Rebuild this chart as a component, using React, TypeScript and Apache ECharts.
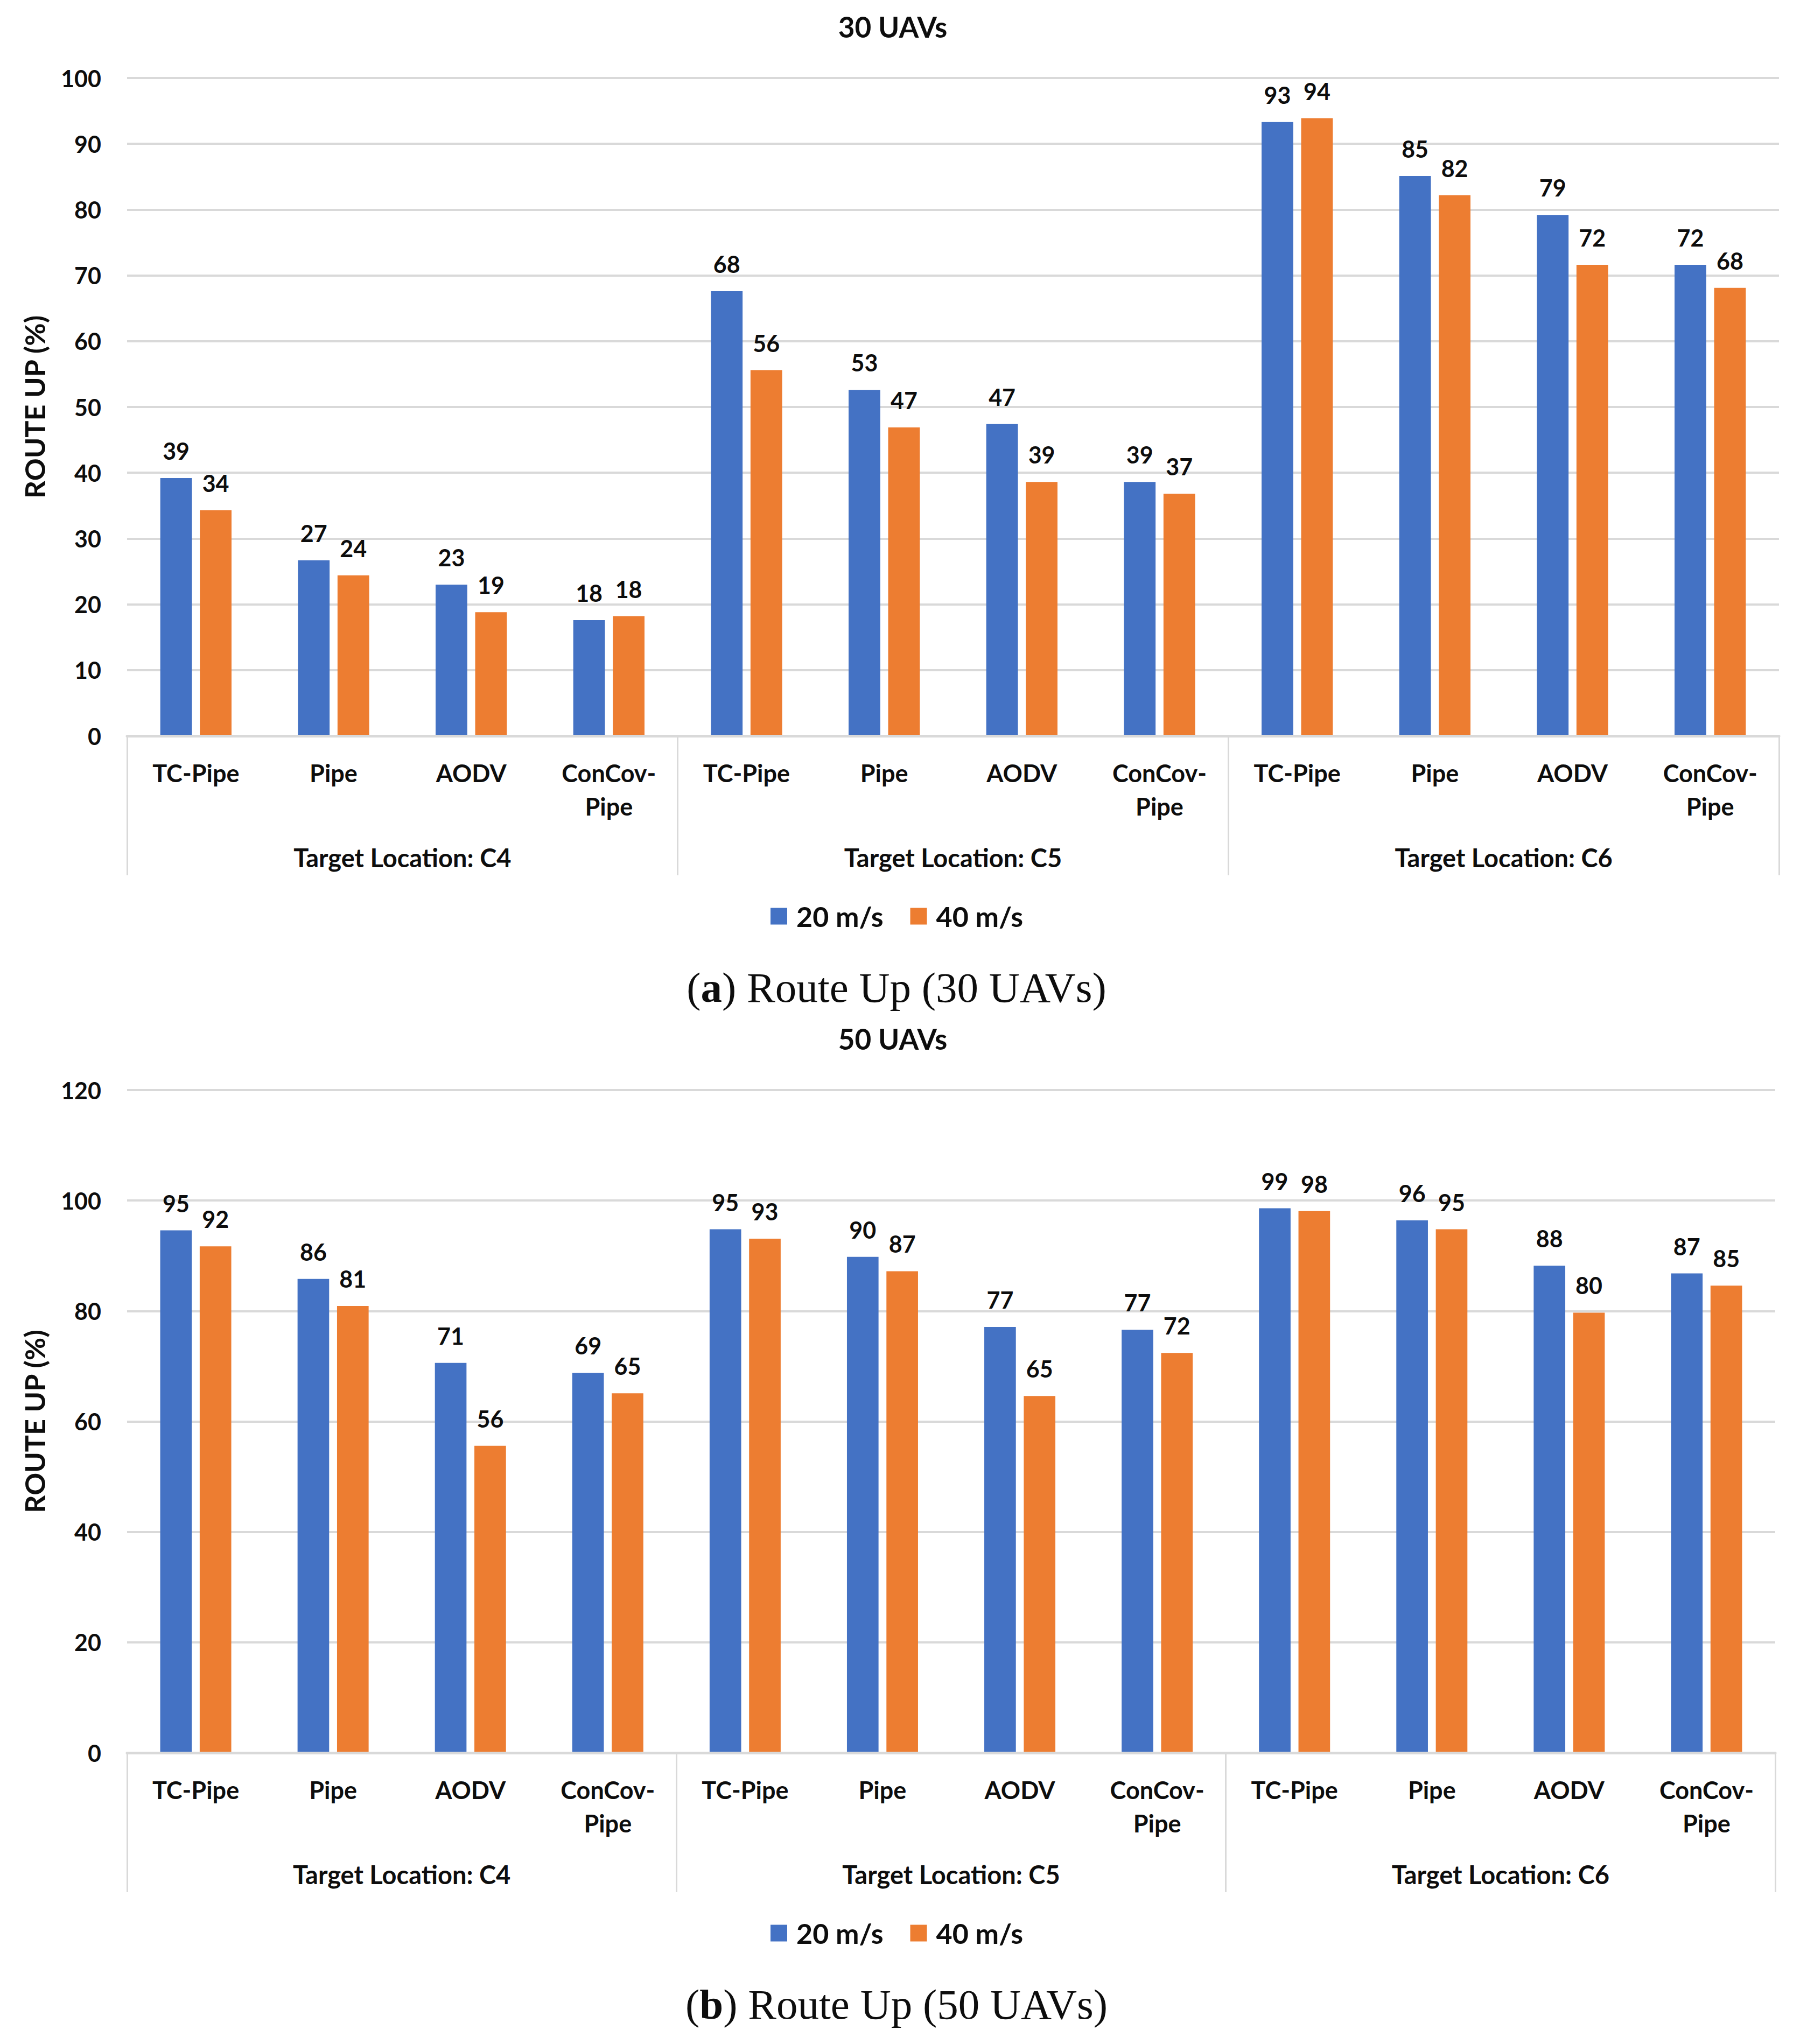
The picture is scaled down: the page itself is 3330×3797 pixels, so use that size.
import React, { useEffect, useRef } from "react";
import * as echarts from "echarts";

const methods = ["TC-Pipe", "Pipe", "AODV", "ConCov-\nPipe"];
const groups = ["Target Location: C4", "Target Location: C5", "Target Location: C6"];
const seriesNames = ["20 m/s", "40 m/s"];

const uav30Speed20 = [39.2, 26.7, 23.0, 17.6, 67.6, 52.6, 47.4, 38.6, 93.3, 85.1, 79.2, 71.6];
const uav30Speed40 = [34.3, 24.4, 18.8, 18.2, 55.6, 46.9, 38.6, 36.8, 93.9, 82.2, 71.6, 68.1];
const uav50Speed20 = [94.6, 85.8, 70.6, 68.8, 94.8, 89.8, 77.1, 76.6, 98.6, 96.4, 88.2, 86.8];
const uav50Speed40 = [91.7, 80.9, 55.6, 65.1, 93.1, 87.2, 64.6, 72.4, 98.1, 94.8, 79.7, 84.6];

const yTicks30 = { min: 0, max: 100, interval: 10 };
const yTicks50 = { min: 0, max: 120, interval: 20 };

const titles = ["30 UAVs", "50 UAVs"];
const captions = ["({b|a}) Route Up (30 UAVs)", "({b|b}) Route Up (50 UAVs)"];

const categories = groups.flatMap(() => methods);

const FONT = "Lato, 'Open Sans', sans-serif";
const SERIF = "'Liberation Serif', 'DejaVu Serif', serif";
const TXT = "#0d0d0d";
const GRIDC = "#d9d9d9";
const BLUE = "#4472C4";
const ORANGE = "#ED7D31";

const W = 3330;
const H = 3797;
const LEFT = 236;
const CX = 1660;

const panels = [
  { top: 145, bottom: 1367, right: 3304, ticks: yTicks30, d20: uav30Speed20, d40: uav30Speed40 },
  { top: 2025, bottom: 3256, right: 3297, ticks: yTicks50, d20: uav50Speed20, d40: uav50Speed40 },
];

export default function App() {
  const ref = useRef<HTMLDivElement>(null);
  useEffect(() => {
    document.body.style.margin = "0";
    const chart = echarts.init(ref.current!, null, { renderer: "svg" });

    const grid: any[] = [];
    const xAxis: any[] = [];
    const yAxis: any[] = [];
    const series: any[] = [];
    const legend: any[] = [];
    const title: any[] = [];

    panels.forEach((p, i) => {
      grid.push({ left: LEFT, right: W - p.right, top: p.top, height: p.bottom - p.top, containLabel: false });
      xAxis.push({
        type: "category",
        gridIndex: i,
        position: "bottom",
        data: categories,
        axisLine: { show: true, lineStyle: { color: GRIDC, width: 5 } },
        axisTick: { show: false },
        axisLabel: {
          interval: 0,
          margin: 38,
          verticalAlign: "top",
          lineHeight: 62,
          fontSize: 45,
          fontWeight: "bold",
          fontFamily: FONT,
          color: TXT,
        },
        z: 5,
      });
      xAxis.push({
        type: "category",
        gridIndex: i,
        position: "bottom",
        data: groups,
        axisLine: { show: false },
        axisTick: { show: true, length: 259, lineStyle: { color: GRIDC, width: 3 } },
        axisLabel: {
          interval: 0,
          margin: 226,
          verticalAlign: "middle",
          fontSize: 47,
          fontWeight: "bold",
          fontFamily: FONT,
          color: TXT,
        },
      });
      yAxis.push({
        type: "value",
        gridIndex: i,
        min: p.ticks.min,
        max: p.ticks.max,
        interval: p.ticks.interval,
        name: "ROUTE UP (%)",
        nameLocation: "middle",
        nameGap: 146,
        nameRotate: 90,
        nameTextStyle: { fontSize: 52, fontWeight: "bold", fontFamily: FONT, color: TXT },
        axisLine: { show: false },
        axisTick: { show: false },
        splitLine: { show: true, lineStyle: { color: GRIDC, width: 4 } },
        axisLabel: { margin: 48, fontSize: 43, fontWeight: "bold", fontFamily: FONT, color: TXT },
      });
      const lbl = {
        show: true,
        position: "top",
        distance: 29,
        fontSize: 43,
        fontWeight: "bold",
        fontFamily: FONT,
        color: TXT,
        formatter: (v: any) => String(Math.round(v.value)),
      };
      series.push({
        type: "bar",
        name: seriesNames[0],
        xAxisIndex: i * 2,
        yAxisIndex: i,
        data: p.d20,
        barWidth: "23%",
        barGap: "25%",
        itemStyle: { color: BLUE },
        label: lbl,
      });
      series.push({
        type: "bar",
        name: seriesNames[1],
        xAxisIndex: i * 2,
        yAxisIndex: i,
        data: p.d40,
        barWidth: "23%",
        barGap: "25%",
        itemStyle: { color: ORANGE },
        label: lbl,
      });
      legend.push({
        data: seriesNames,
        left: 1426,
        top: p.bottom + 334 - 30,
        icon: "rect",
        itemWidth: 31,
        itemHeight: 31,
        itemGap: 50,
        selectedMode: false,
        textStyle: { fontSize: 52, fontWeight: "bold", fontFamily: FONT, color: TXT, padding: [0, 0, 0, 12] },
      });
      title.push({
        text: titles[i],
        left: 1653,
        textAlign: "center",
        top: p.top - 99 - 28,
        textStyle: { fontSize: 53, fontWeight: "bold", fontFamily: FONT, color: TXT },
      });
      title.push({
        text: captions[i],
        left: CX,
        textAlign: "center",
        top: p.bottom + 469 - 46,
        textStyle: {
          fontSize: 79,
          fontWeight: "normal",
          fontFamily: SERIF,
          color: TXT,
          rich: { b: { fontSize: 79, fontWeight: "bold", fontFamily: SERIF, color: TXT } },
        },
      });
    });

    chart.setOption({
      animation: false,
      backgroundColor: "#ffffff",
      title,
      legend,
      grid,
      xAxis,
      yAxis,
      series,
    });
    return () => chart.dispose();
  }, []);
  return <div ref={ref} style={{ width: W, height: H }} />;
}
